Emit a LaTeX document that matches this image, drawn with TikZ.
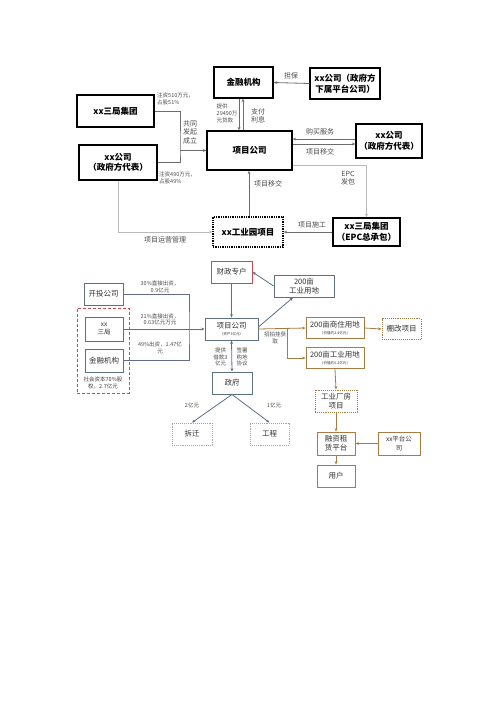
\documentclass[tikz,border=0pt]{standalone}
\usepackage{fontspec}
\setmainfont{Noto Sans CJK SC}
\usetikzlibrary{arrows.meta}
\definecolor{slate}{HTML}{5E6E84}
\definecolor{brick}{HTML}{CB4A4C}
\definecolor{landbrown}{HTML}{A67C43}
\newcommand{\subnote}[1]{{\fontsize{3.6}{4.5}\selectfont #1}}

\begin{document}
\begin{tikzpicture}[x=1pt, y=-1pt, >={Stealth[length=3.5pt,width=2.8pt]}]
  \tikzset{boxsize/.style 2 args={minimum width=#1pt, minimum height=#2pt},
           tbox/.style={draw=black, line width=1.3pt, align=center, inner sep=1pt,
                        font=\fontsize{8.5}{10.5}\selectfont\bfseries},
           bbox/.style={draw=slate, line width=0.9pt, align=center, inner sep=1pt,
                        font=\fontsize{7.5}{9}\selectfont, text=black!80},
           landbox/.style={bbox, draw=landbrown},
           lbl/.style={font=\fontsize{5.5}{6.8}\selectfont, align=center, inner sep=0pt, text=black!70},
           big lbl/.style={lbl, font=\fontsize{7}{8.5}\selectfont},
           tline/.style={draw=gray!85!black, line width=0.8pt},
           pale line/.style={draw=gray!55, line width=0.8pt},
           bline/.style={draw=slate, line width=0.8pt},
           brline/.style={draw=landbrown, line width=0.8pt}}
  \useasboundingbox (0,0) rectangle (500,707);
  \fill[white] (0,0) rectangle (500,707);

  \node[tbox, boxsize={59}{31}] (jr) at (243.5,82.5) {金融机构};
  \node[tbox, boxsize={70}{31}] (pt) at (345,83.5) {xx公司（政府方\\下属平台公司）};
  \node[tbox, boxsize={85}{39}] (xm) at (249.5,150.5) {项目公司};
  \node[tbox, boxsize={66}{34}] (zfr) at (389,141) {xx公司\\（政府方代表）};
  \node[tbox, boxsize={67}{28}] (epc) at (366.5,232) {xx三局集团\\（EPC总承包）};
  \node[tbox, boxsize={70}{30}, densely dotted] (gyy) at (248,232) {xx工业园项目};
  \node[tbox, boxsize={77}{32}] (sj) at (115.5,111) {xx三局集团};
  \node[tbox, boxsize={78}{35}] (zfl) at (118,162.5) {xx公司\\（政府方代表）};
  \coordinate (hb) at (180,150.5);

  \draw[tline] (sj.east) -| (hb) |- (zfl.east);
  \draw[tline, ->] (hb) -- (xm.west);
  \draw[tline, ->] (pt.west) -- (jr.east);
  \draw[tline, ->] ([xshift=-4.5pt]jr.south) -- ([xshift=-4.5pt]jr.south |- xm.north);
  \draw[tline, ->] ([xshift=-0.5pt]jr.south |- xm.north) -- ([xshift=-0.5pt]jr.south);
  \draw[tline, ->] ([yshift=2pt]zfr.west) -- ([yshift=2pt]zfr.west -| xm.east);
  \draw[tline, ->] ([yshift=-3pt]zfr.west -| xm.east) -- ([yshift=-3pt]zfr.west);
  \draw[pale line, ->] ([yshift=-14.5pt]xm.east) -| (epc.north);
  \draw[tline, ->] (epc.west) -- (gyy.east);
  \draw[tline, ->] ([xshift=1pt]gyy.north) -- ([xshift=1pt]gyy.north |- xm.south);
  \draw[pale line, ->] (zfl.south) |- (gyy.west);

  \node[lbl, anchor=north west, align=left] (l1) at (157,93) {注资510万元，\\占股51\%};
  \node[lbl, anchor=north west, align=left] (l2) at (159,172) {注资490万元，\\占股49\%};
  \node[big lbl] (l3) at (190,132) {共同\\发起\\成立};
  \node[big lbl] (l4) at (291,76) {担保};
  \node[lbl, anchor=north west, align=left] (l5) at (216.5,104) {提供\\29490万\\元贷款};
  \node[big lbl, align=left] (l6) at (258,116) {支付\\利息};
  \node[big lbl] (l7) at (320,132) {购买服务};
  \node[big lbl] (l8) at (320,152) {项目移交};
  \node[big lbl] (l9) at (348,178) {EPC\\发包};
  \node[big lbl] (l10) at (312,225) {项目施工};
  \node[big lbl] (l11) at (268,184) {项目移交};
  \node[big lbl] (l12) at (165,240) {项目运营管理};

  \node[bbox, boxsize={39}{22}] (kt) at (103.5,294) {开投公司};
  \node[draw=brick, densely dashed, line width=0.8pt, boxsize={52}{85}] (grp) at (103,350.5) {};
  \node[bbox, boxsize={38}{24}, font=\fontsize{6.5}{8}\selectfont] (sjb) at (104,329) {xx\\三局};
  \node[bbox, boxsize={38}{23}] (jrb) at (104,360.5) {金融机构};
  \node[lbl, text=black!75] (shz) at (103,383) {社会资本70\%股\\权，2.7亿元};
  \node[bbox, draw=brick, boxsize={41}{22}] (czzh) at (231.5,272) {财政专户};
  \node[bbox, boxsize={53}{22}] (xmb) at (231.5,329) {项目公司\\[-2pt]\subnote{（资产3亿元）}};
  \node[bbox, boxsize={60}{22}] (gyd) at (304,286) {200亩\\工业用地};
  \node[landbox, boxsize={58}{21}] (shyd) at (335,328) {200亩商住用地\\[-2pt]\subnote{（价值约2.4亿元）}};
  \node[landbox, boxsize={39}{21}, densely dotted] (pg) at (401.5,329) {棚改项目};
  \node[landbox, boxsize={58}{21}] (gyd2) at (335,358) {200亩工业用地\\[-2pt]\subnote{（价值约0.2亿元）}};
  \node[landbox, boxsize={42}{22}, densely dotted] (gycf) at (336,401) {工业厂房\\项目};
  \node[landbox, boxsize={38}{23}] (rzzl) at (336,443.5) {融资租\\赁平台};
  \node[landbox, boxsize={42}{23}, font=\fontsize{6.5}{8.5}\selectfont] (ptgs) at (399,443.5) {xx平台公\\司};
  \node[landbox, boxsize={38}{22}] (yh) at (336,476) {用户};
  \node[bbox, boxsize={40}{22}] (zfb) at (232,383) {政府};
  \node[bbox, draw=gray!70, densely dotted, boxsize={40}{22}] (cq) at (192,434) {拆迁};
  \node[bbox, draw=gray!70, densely dotted, boxsize={39}{22}] (gc) at (269.5,434) {工程};
  \coordinate (jb) at (189,329);
  \coordinate (zb) at (287,328);

  \draw[bline] (kt.east) -| (jb) |- (jrb.east);
  \draw[bline, ->] (sjb.east) -- (xmb.west);
  \draw[bline, ->] (czzh.south) -- (xmb.north);
  \draw[bline, ->] (gyd.west) -- (czzh.east);
  \draw[bline, ->] ([yshift=2pt]xmb.east) -- ([xshift=-11pt]gyd.south);
  \draw[brline, ->] (xmb.east) -- (shyd.west);
  \draw[brline, ->] (zb) |- (gyd2.west);
  \draw[brline, ->] (shyd.east) -- (pg.west);
  \draw[brline, ->] (gyd2.south) -- (gycf.north);
  \draw[brline, ->] (gycf.south) -- (rzzl.north);
  \draw[brline, ->] (ptgs.west) -- (rzzl.east);
  \draw[brline, ->] (rzzl.south) -- (yh.north);
  \draw[bline, <->] (xmb.south) -- (zfb.north);
  \draw[bline, ->] (zfb.south) -- (cq.north);
  \draw[bline, ->] (zfb.south) -- (gc.north);

  \node[lbl] (m1) at (160,286.5) {30\%直接出资，\\0.9亿元};
  \node[lbl] (m2) at (160,319.5) {21\%直接出资，\\0.63亿元万元};
  \node[lbl] (m3) at (160,348) {49\%出资，1.47亿\\元};
  \node[lbl] (m4) at (220.5,357) {提供\\借款3\\亿元};
  \node[lbl] (m5) at (242,357) {签署\\购地\\协议};
  \node[lbl] (m6) at (275,338) {招拍挂获\\取};
  \node[lbl] (m7) at (192,405) {2亿元};
  \node[lbl] (m8) at (274,405) {1亿元};
\end{tikzpicture}
\end{document}
